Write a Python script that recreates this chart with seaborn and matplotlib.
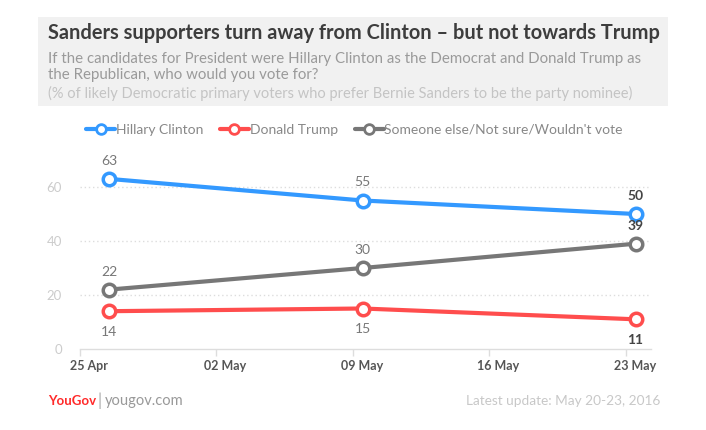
import matplotlib
matplotlib.use('Agg')
import matplotlib.pyplot as plt
from matplotlib.lines import Line2D
from matplotlib.patches import Rectangle
import seaborn as sns
import pandas as pd

# ---- data ----
dates = ['2016-04-26 12:00', '2016-05-09 12:00', '2016-05-23 12:00']
clinton = [63, 55, 50]
trump = [14, 15, 11]
other = [22, 30, 39]
series_names = ['Hillary Clinton', 'Donald Trump', "Someone else/Not sure/Wouldn't vote"]
colors = ['#3399ff', '#ff4d4d', '#777777']
xtick_dates = ['2016-04-25', '2016-05-02', '2016-05-09', '2016-05-16', '2016-05-23']
xtick_labels = ['25 Apr', '02 May', '09 May', '16 May', '23 May']
yticks = [0, 20, 40, 60]

title = 'Sanders supporters turn away from Clinton \u2013 but not towards Trump'
subtitle = ('If the candidates for President were Hillary Clinton as the Democrat and Donald Trump as\n'
            'the Republican, who would you vote for?')
note = '(% of likely Democratic primary voters who prefer Bernie Sanders to be the party nominee)'
footer_right = 'Latest update: May 20-23, 2016'

rows = []
for name, vals in zip(series_names, [clinton, trump, other]):
    for d, v in zip(dates, vals):
        rows.append({'date': pd.Timestamp(d), 'value': v, 'series': name})
df = pd.DataFrame(rows)

sns.set_theme(style='white')
plt.rcParams['font.family'] = ['Lato', 'DejaVu Sans']

W, H = 706, 430
fig = plt.figure(figsize=(W / 100, H / 100), dpi=100)
fig.patch.set_facecolor('white')

# header box
fig.patches.append(Rectangle((38 / W, 1 - 106 / H), 630 / W, 89 / H,
                             transform=fig.transFigure, facecolor='#f1f1f1',
                             edgecolor='none', zorder=0))
fig.text(48 / W, 1 - 33 / H, title, fontsize=14.4, fontweight='bold', color='#3d3d3d',
         va='center', ha='left')
fig.text(48 / W, 1 - 67 / H, subtitle, fontsize=10.8, color='#9a9a9a',
         va='center', ha='left', linespacing=1.2)
fig.text(48 / W, 1 - 93 / H, note, fontsize=10.5, color='#c4c4c4',
         va='center', ha='left')

ax = fig.add_axes([80 / W, 81 / H, (651 - 80) / W, (349 - 160) / H])
sns.lineplot(data=df, x='date', y='value', hue='series', hue_order=series_names,
             palette=colors, linewidth=3, marker='o', markersize=9,
             legend=False, ax=ax)
for line, c in zip(ax.lines, colors):
    line.set_markerfacecolor('white')
    line.set_markeredgecolor(c)
    line.set_markeredgewidth(2.5)
    line.set_clip_on(False)

ax.set_xlim(pd.Timestamp('2016-04-25'), pd.Timestamp('2016-05-24 07:00'))
ax.set_ylim(0, 70)
# tick marks at midnight (major, unlabeled); labels slightly to the right (minor)
ax.set_xticks([pd.Timestamp(d) for d in xtick_dates])
ax.set_xticklabels([''] * len(xtick_dates))
ax.set_xticks([pd.Timestamp(d) + pd.Timedelta(hours=11) for d in xtick_dates], minor=True)
ax.set_xticklabels(xtick_labels, minor=True, fontsize=9, fontweight='bold', color='#555555')
ax.tick_params(axis='x', which='major', length=5, color='#dddddd', width=1, bottom=True)
ax.tick_params(axis='x', which='minor', length=0, pad=8, bottom=True)
ax.set_yticks(yticks)
ax.set_yticklabels([str(v) for v in yticks], fontsize=9.5, color='#cccccc')
ax.tick_params(axis='y', length=0, pad=13)
ax.set_xlabel('')
ax.set_ylabel('')
for s in ['top', 'right', 'left']:
    ax.spines[s].set_visible(False)
ax.spines['bottom'].set_color('#dddddd')
ax.spines['bottom'].set_linewidth(1)
for y in yticks[1:]:
    ax.axhline(y, color='#dddddd', linestyle=(0, (1, 2)), linewidth=1, zorder=0)
ax.set_facecolor('white')

# data labels
above = {series_names[0]: True, series_names[1]: False, series_names[2]: True}
for name, vals in zip(series_names, [clinton, trump, other]):
    for i, (d, v) in enumerate(zip(dates, vals)):
        last = i == len(dates) - 1
        off = 13 if above[name] else -15
        ax.annotate(str(v), (pd.Timestamp(d), v), xytext=(0, off), textcoords='offset points',
                    ha='center', va='center', fontsize=10,
                    fontweight='bold' if last else 'normal',
                    color='#444444' if last else '#777777', annotation_clip=False)

# legend
handles = [Line2D([0], [0], color=c, linewidth=3, marker='o', markersize=7,
                  markerfacecolor='white', markeredgecolor=c, markeredgewidth=2)
           for c in colors]
leg = fig.legend(handles, series_names, loc='center left', ncol=3,
                 bbox_to_anchor=(86 / W, 1 - 130 / H), frameon=False,
                 fontsize=10, handlelength=2.1, handletextpad=0.05,
                 columnspacing=1.2, borderaxespad=0, borderpad=0)
for t in leg.get_texts():
    t.set_color('#888888')

# footer
fig.text(48 / W, 1 - 401 / H, 'YouGov', fontsize=9.5, fontweight='bold', color='#ff2a2a',
         va='center', ha='left')
fig.text(97 / W, 1 - 401 / H, '|', fontsize=12, color='#aaaaaa', va='center', ha='left')
fig.text(105 / W, 1 - 401 / H, 'yougov.com', fontsize=10.5, color='#999999',
         va='center', ha='left')
fig.text(660 / W, 1 - 401 / H, footer_right, fontsize=9.8, color='#c8c8c8',
         va='center', ha='right')

fig.savefig('out.png', dpi=100, facecolor='white')
